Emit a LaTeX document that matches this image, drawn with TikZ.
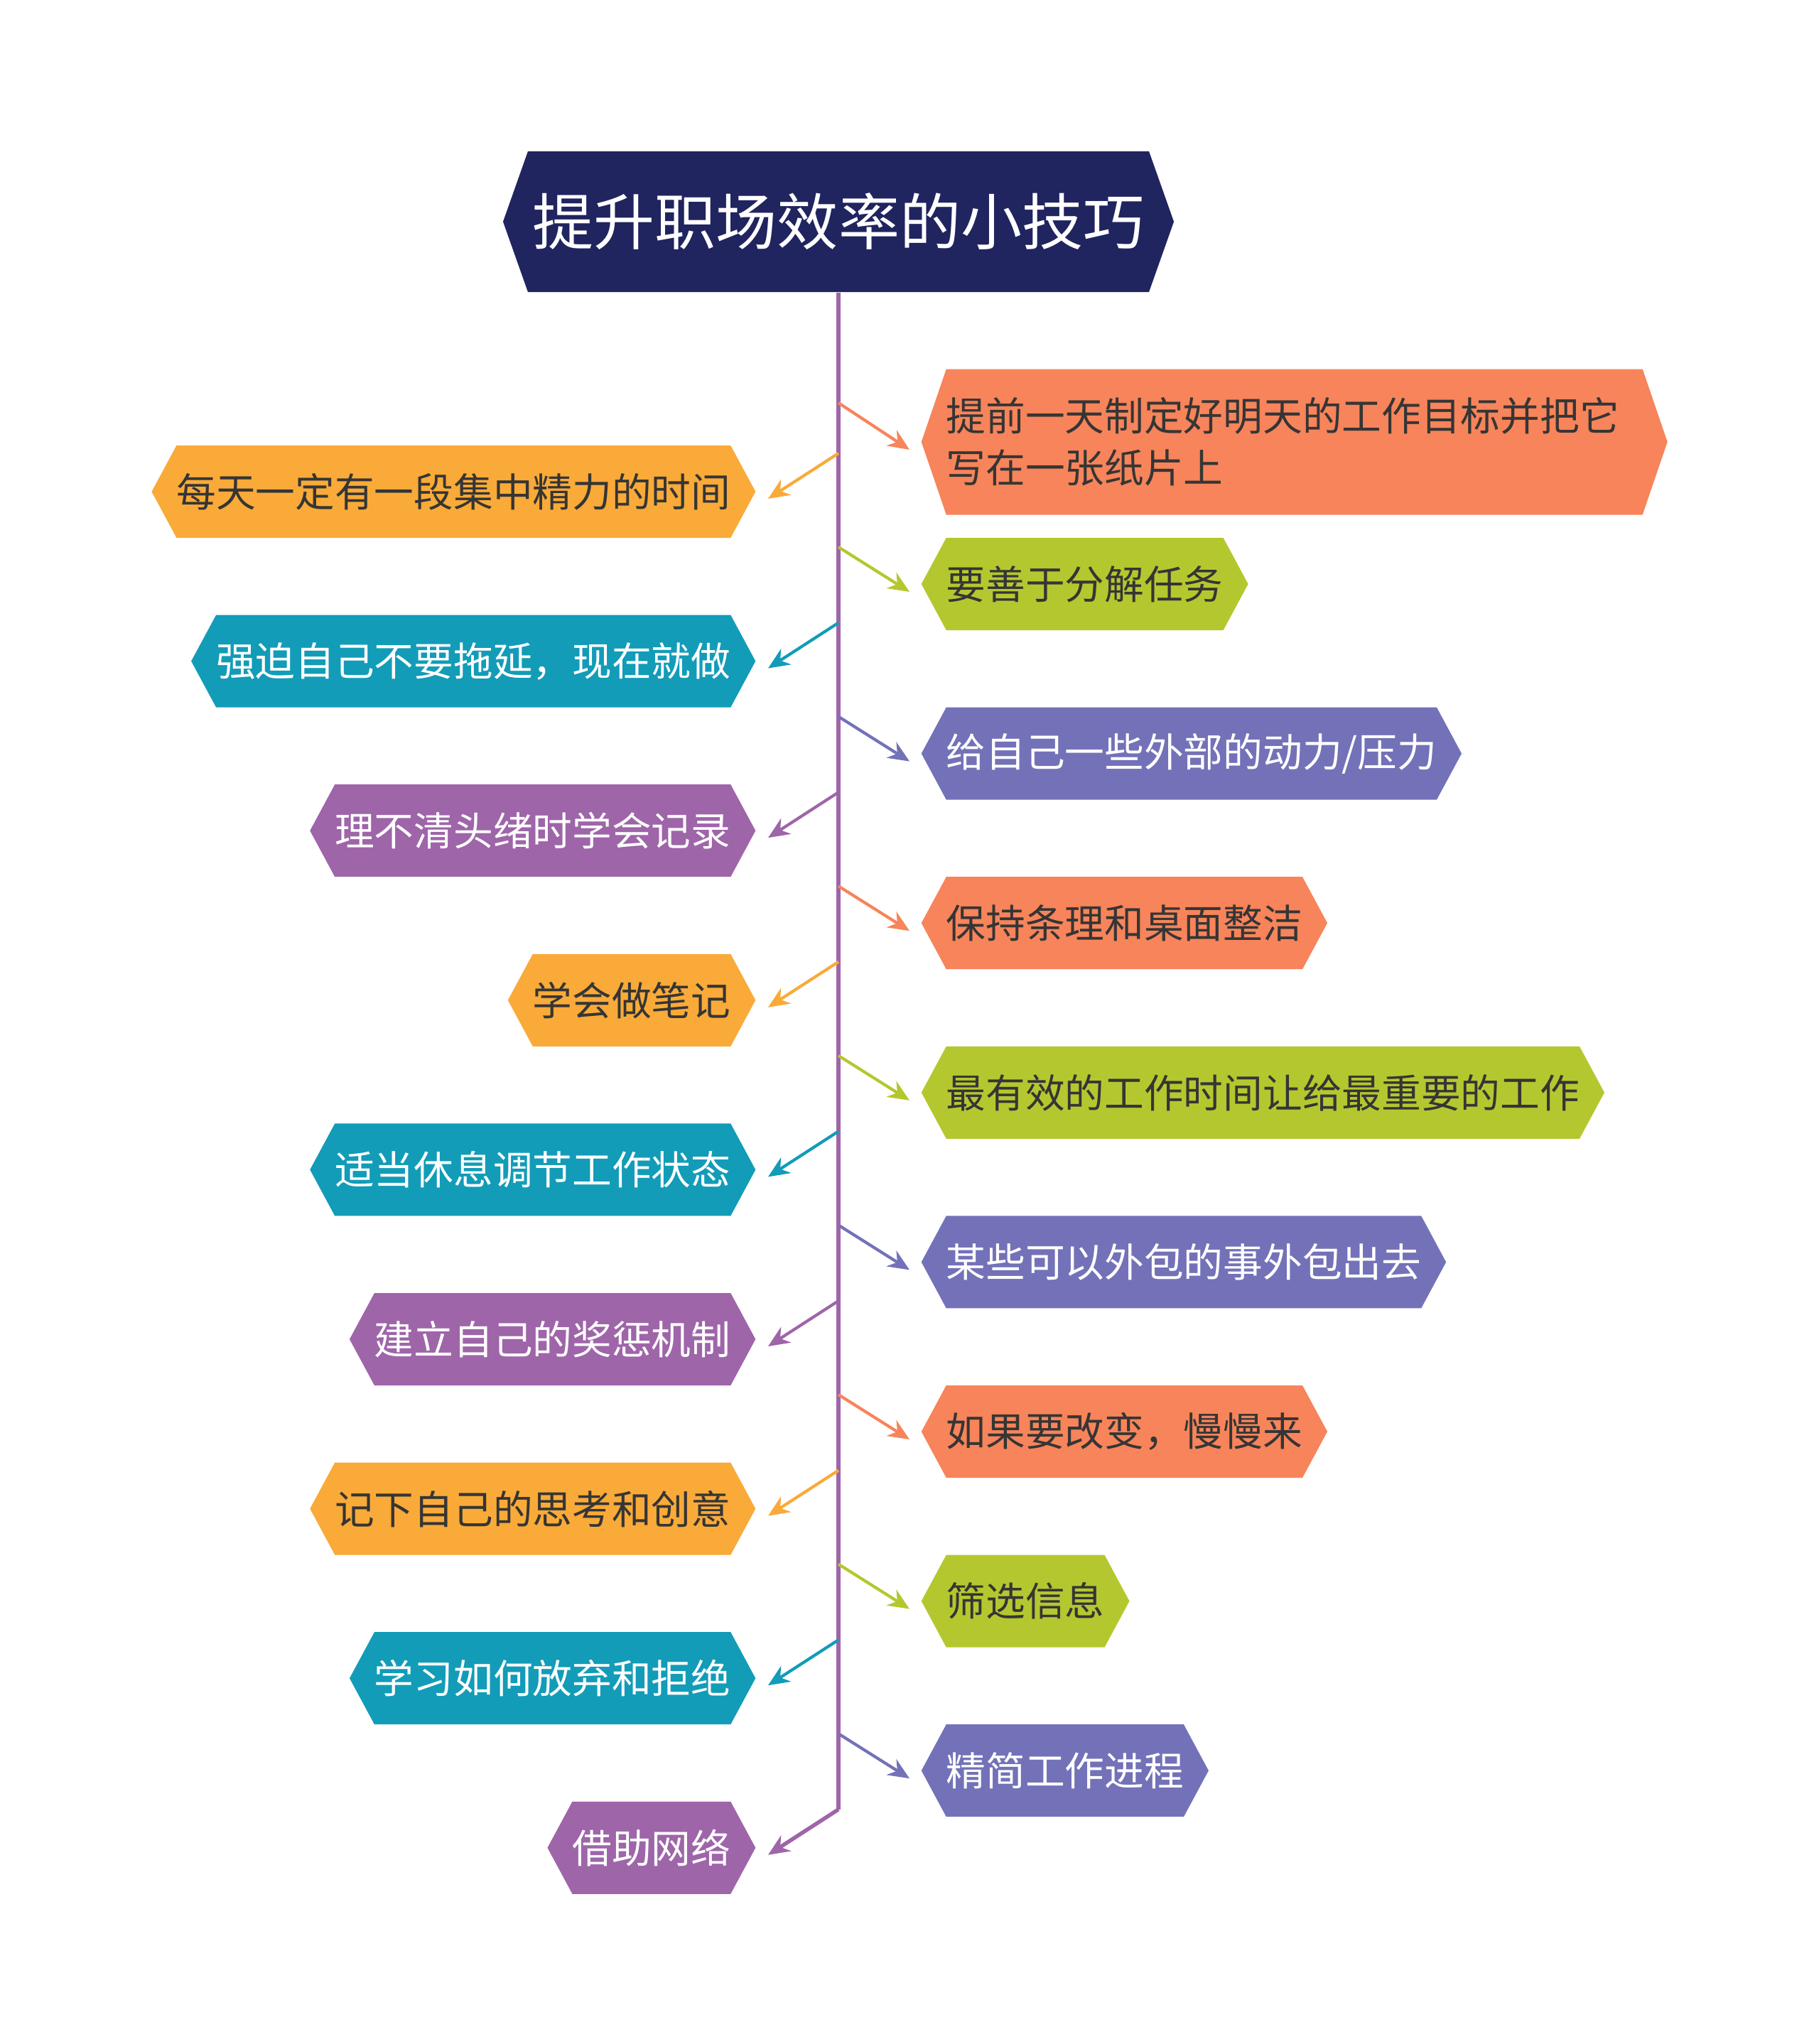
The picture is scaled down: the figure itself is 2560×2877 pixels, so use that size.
\documentclass[tikz,border=0pt]{standalone}
\usepackage{fontspec}
\setmainfont{Noto Sans CJK SC}
\usepackage{xcolor}
\usepackage{tikz}
\usetikzlibrary{arrows.meta,positioning,calc}
\definecolor{tipNavy}{HTML}{20245F}
\definecolor{tipCoral}{HTML}{F7845A}
\definecolor{tipLime}{HTML}{B5C72F}
\definecolor{tipIndigo}{HTML}{7372B8}
\definecolor{tipAmber}{HTML}{F9AA38}
\definecolor{tipTeal}{HTML}{129CB8}
\definecolor{tipPlum}{HTML}{9E65A9}
\definecolor{tipInk}{HTML}{353535}

\begin{document}
\begin{tikzpicture}[x=0.1mm, y=-0.1mm,
  hexbox/.style={rectangle, inner xsep=3.5mm, inner ysep=0pt, minimum height=13mm, font=\fontsize{15.85}{20.8}\selectfont,
    path picture={\fill[#1] (path picture bounding box.west) -- ([xshift=3.5mm]path picture bounding box.north west) -- ([xshift=-3.5mm]path picture bounding box.north east) -- (path picture bounding box.east) -- ([xshift=-3.5mm]path picture bounding box.south east) -- ([xshift=3.5mm]path picture bounding box.south west) -- cycle;}},
  coralbox/.style={hexbox=tipCoral, text=tipInk},
  limebox/.style={hexbox=tipLime, text=tipInk},
  indigobox/.style={hexbox=tipIndigo, text=white},
  amberbox/.style={hexbox=tipAmber, text=tipInk},
  tealbox/.style={hexbox=tipTeal, text=white},
  plumbox/.style={hexbox=tipPlum, text=white},
  arrow/.style={-{Stealth[length=3mm, width=2.6mm]}, line width=0.42mm, draw=#1},
  trunk/.style={line width=0.55mm, draw=tipPlum}
]
\useasboundingbox (0,0) rectangle (2560,2877);
\node[hexbox=tipNavy, text=white, inner xsep=4.15mm, minimum height=19.8mm, font=\fontsize{24.5}{28}\selectfont] (title) at (1180,312) {提升职场效率的小技巧};

\node[coralbox, anchor=west, text width=98mm, align=left, minimum height=20.5mm] (r1) at (1296,622) {提前一天制定好明天的工作目标并把它\\写在一张纸片上};
\node[limebox, anchor=west] (r2) at (1296,822) {要善于分解任务};
\node[indigobox, below=23.86mm of r2.west, anchor=west] (r3) {给自己一些外部的动力/压力};
\node[coralbox, below=23.86mm of r3.west, anchor=west] (r4) {保持条理和桌面整洁};
\node[limebox, below=23.86mm of r4.west, anchor=west] (r5) {最有效的工作时间让给最重要的工作};
\node[indigobox, below=23.86mm of r5.west, anchor=west] (r6) {某些可以外包的事外包出去};
\node[coralbox, below=23.86mm of r6.west, anchor=west] (r7) {如果要改变，慢慢来};
\node[limebox, below=23.86mm of r7.west, anchor=west] (r8) {筛选信息};
\node[indigobox, below=23.86mm of r8.west, anchor=west] (r9) {精简工作进程};

\node[amberbox, anchor=east] (l1) at (1064,692) {每天一定有一段集中精力的时间};
\node[tealbox, below=23.86mm of l1.east, anchor=east] (l2) {强迫自己不要拖延，现在就做};
\node[plumbox, below=23.86mm of l2.east, anchor=east] (l3) {理不清头绪时学会记录};
\node[amberbox, below=23.86mm of l3.east, anchor=east] (l4) {学会做笔记};
\node[tealbox, below=23.86mm of l4.east, anchor=east] (l5) {适当休息调节工作状态};
\node[plumbox, below=23.86mm of l5.east, anchor=east] (l6) {建立自己的奖惩机制};
\node[amberbox, below=23.86mm of l6.east, anchor=east] (l7) {记下自己的思考和创意};
\node[tealbox, below=23.86mm of l7.east, anchor=east] (l8) {学习如何放弃和拒绝};
\node[plumbox, below=23.86mm of l8.east, anchor=east] (l9) {借助网络};

\coordinate (b-r1) at ($(r1.west -| title.south)+(0,-55)$);
\coordinate (b-r2) at ($(r2.west -| title.south)+(0,-52)$);
\coordinate (b-r3) at ($(r3.west -| title.south)+(0,-52)$);
\coordinate (b-r4) at ($(r4.west -| title.south)+(0,-52)$);
\coordinate (b-r5) at ($(r5.west -| title.south)+(0,-52)$);
\coordinate (b-r6) at ($(r6.west -| title.south)+(0,-52)$);
\coordinate (b-r7) at ($(r7.west -| title.south)+(0,-52)$);
\coordinate (b-r8) at ($(r8.west -| title.south)+(0,-52)$);
\coordinate (b-r9) at ($(r9.west -| title.south)+(0,-52)$);
\coordinate (b-l1) at ($(l1.east -| title.south)+(0,-54)$);
\coordinate (b-l2) at ($(l2.east -| title.south)+(0,-54)$);
\coordinate (b-l3) at ($(l3.east -| title.south)+(0,-54)$);
\coordinate (b-l4) at ($(l4.east -| title.south)+(0,-54)$);
\coordinate (b-l5) at ($(l5.east -| title.south)+(0,-54)$);
\coordinate (b-l6) at ($(l6.east -| title.south)+(0,-54)$);
\coordinate (b-l7) at ($(l7.east -| title.south)+(0,-54)$);
\coordinate (b-l8) at ($(l8.east -| title.south)+(0,-54)$);
\coordinate (b-l9) at ($(l9.east -| title.south)+(0,-54)$);

\draw[trunk] (title.south) -- (b-l9);
\draw[arrow=tipCoral] (b-r1) -- ($(r1.west)+(-16,11)$);
\draw[arrow=tipLime] (b-r2) -- ($(r2.west)+(-16,11)$);
\draw[arrow=tipIndigo] (b-r3) -- ($(r3.west)+(-16,11)$);
\draw[arrow=tipCoral] (b-r4) -- ($(r4.west)+(-16,11)$);
\draw[arrow=tipLime] (b-r5) -- ($(r5.west)+(-16,11)$);
\draw[arrow=tipIndigo] (b-r6) -- ($(r6.west)+(-16,11)$);
\draw[arrow=tipCoral] (b-r7) -- ($(r7.west)+(-16,11)$);
\draw[arrow=tipLime] (b-r8) -- ($(r8.west)+(-16,11)$);
\draw[arrow=tipIndigo] (b-r9) -- ($(r9.west)+(-16,11)$);
\draw[arrow=tipAmber] (b-l1) -- ($(l1.east)+(17,10)$);
\draw[arrow=tipTeal] (b-l2) -- ($(l2.east)+(17,10)$);
\draw[arrow=tipPlum] (b-l3) -- ($(l3.east)+(17,10)$);
\draw[arrow=tipAmber] (b-l4) -- ($(l4.east)+(17,10)$);
\draw[arrow=tipTeal] (b-l5) -- ($(l5.east)+(17,10)$);
\draw[arrow=tipPlum] (b-l6) -- ($(l6.east)+(17,10)$);
\draw[arrow=tipAmber] (b-l7) -- ($(l7.east)+(17,10)$);
\draw[arrow=tipTeal] (b-l8) -- ($(l8.east)+(17,10)$);
\draw[arrow=tipPlum, line width=0.55mm] (b-l9) -- ($(l9.east)+(17,10)$);
\end{tikzpicture}
\end{document}
